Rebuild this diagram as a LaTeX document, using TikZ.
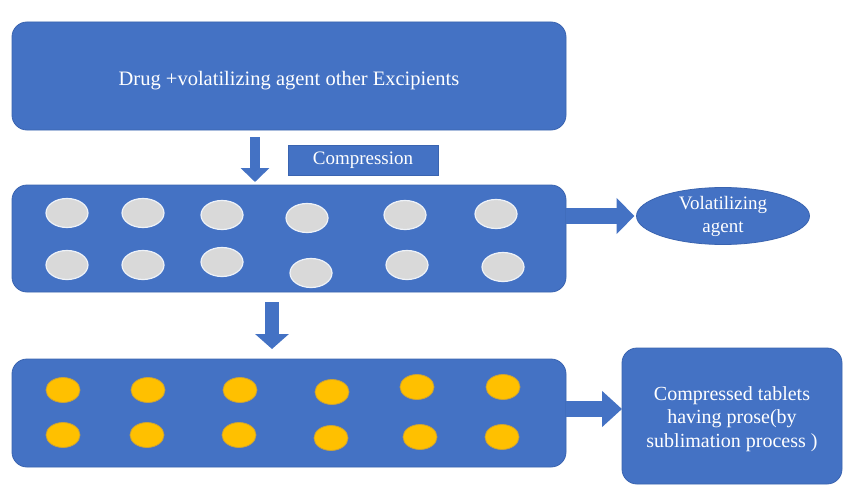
\documentclass[tikz,border=0pt]{standalone}
\usepackage{fontspec}
\setmainfont{Liberation Serif}
\usetikzlibrary{arrows.meta,shapes.geometric,calc}
\definecolor{boxblue}{HTML}{4472C4}
\definecolor{boxedge}{HTML}{3A64B0}
\definecolor{pillgray}{HTML}{D9D9D9}
\definecolor{pilledge}{HTML}{EEF2F8}
\definecolor{pillgold}{HTML}{FFC000}
\definecolor{goldedge}{HTML}{C9A23A}
\begin{document}
\begin{tikzpicture}[x=1pt,y=-1pt,
  every node/.style={inner sep=0pt, outer sep=0pt},
  bluebox/.style={rectangle, rounded corners=15pt, fill=boxblue, draw=boxedge,
    line width=0.8pt},
  boxtext/.style={text=white, align=center, font=\fontsize{19}{23}\selectfont},
  tagbox/.style={rectangle, fill=boxblue, draw=boxedge, line width=0.8pt, boxtext},
  blueoval/.style={ellipse, fill=boxblue, draw=boxedge, line width=0.8pt, boxtext},
  graypill/.style={ellipse, minimum width=42pt, minimum height=29pt,
    fill=pillgray, draw=pilledge, line width=1.2pt},
  goldpill/.style={ellipse, minimum width=34pt, minimum height=25pt,
    fill=pillgold, draw=goldedge, line width=0.8pt},
  blockarrow/.style={boxblue, line cap=butt}]

\useasboundingbox (0,0) rectangle (845,495);
\fill[white] (0,0) rectangle (845,495);

% main process boxes
\node[bluebox, minimum width=554pt, minimum height=108pt] (top) at (289,76) {};
\node[boxtext, font=\fontsize{20.5}{24}\selectfont] (toptext) at ([yshift=-5pt]top.center)
  {Drug +volatilizing agent other Excipients};
\node[tagbox, minimum width=150pt, minimum height=30pt] (comp) at (363,160) {Compression};
\node[bluebox, minimum width=554pt, minimum height=107pt] (mid) at (289,238.5) {};
\node[bluebox, minimum width=554pt, minimum height=108pt] (low) at (289,413) {};

% outputs on the right
\node[blueoval, minimum width=173pt, minimum height=48pt] (vol) at (723,216)
  {Volatilizing\\agent};
\node[bluebox, minimum width=220pt, minimum height=136pt] (tab) at (732,416) {};
\node[boxtext, font=\fontsize{20}{23.5}\selectfont] (tabtext) at ([yshift=-3pt]tab.center)
  {Compressed tablets\\having prose(by\\sublimation process )};

% gray granules before sublimation
\foreach \px/\py [count=\i] in {67/213,143/213,222/215,307/218,405/215,496/214,
                                 67/265,143/265,222/262,311/273,407/265,503/267}
  \node[graypill] (g\i) at (\px,\py) {};

% gold tablets after sublimation
\foreach \px/\py [count=\i] in {63/390,148/390,240/390,332/392,417/387,503/387,
                                 63/435,147/435,239/435,331/438,420/437,502/437}
  \node[goldpill] (y\i) at (\px,\py) {};

% downward block arrows
\coordinate (a1) at (255,0);
\coordinate (a2) at (272,0);
\draw[blockarrow, line width=10pt, -{Triangle[width=28pt,length=14pt]}]
  ([yshift=-7pt]top.south -| a1) -- ([yshift=3pt]mid.north -| a1);
\draw[blockarrow, line width=14pt, -{Triangle[width=33pt,length=15pt]}]
  ([yshift=-10pt]mid.south -| a2) -- ([yshift=10pt]low.north -| a2);

% sideways block arrows
\draw[blockarrow, line width=16pt, -{Triangle[width=35pt,length=18pt]}]
  (mid.east |- vol.west) -- ([xshift=-2pt]vol.west);
\draw[blockarrow, line width=16pt, -{Triangle[width=35pt,length=20pt]}]
  (low.east |- 0,409) -- (tab.west |- 0,409);

\end{tikzpicture}
\end{document}
